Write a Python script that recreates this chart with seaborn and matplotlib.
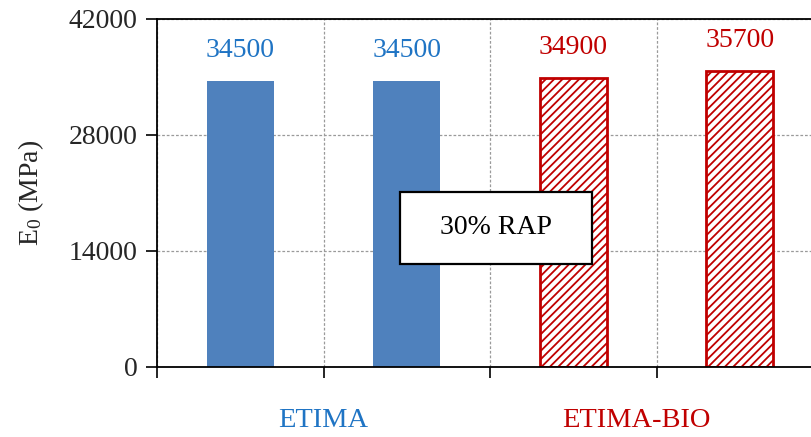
import matplotlib
matplotlib.use("Agg")
import matplotlib.pyplot as plt
import seaborn as sns
import pandas as pd
from matplotlib.patches import Rectangle

# Data
samples = ["ETIMA 1", "ETIMA 2", "ETIMA-BIO 1", "ETIMA-BIO 2"]
values = [34500, 34500, 34900, 35700]
groups = ["ETIMA", "ETIMA-BIO"]
yticks = [0, 14000, 28000, 42000]

blue_fill = "#4F81BD"
blue_text = "#1F74C4"
red = "#C00000"

sns.set_style("white")
plt.rcParams["font.family"] = ["Liberation Serif", "DejaVu Serif"]
plt.rcParams["hatch.linewidth"] = 1.3
plt.rcParams["mathtext.fontset"] = "custom"
plt.rcParams["mathtext.rm"] = "Liberation Serif"
plt.rcParams["mathtext.it"] = "Liberation Serif:italic"

df = pd.DataFrame({"sample": samples, "E0": values})

fig = plt.figure(figsize=(8.11, 4.37), dpi=100)
ax = fig.add_axes([157 / 811, (437 - 367) / 437, 666 / 811, 348 / 437])

sns.barplot(data=df, x="sample", y="E0", hue="sample",
            palette=[blue_fill, blue_fill, "white", "white"],
            width=0.4, legend=False, ax=ax, saturation=1, zorder=2)

for i, p in enumerate(ax.patches):
    if i >= 2:
        p.set_facecolor("white")
        p.set_edgecolor(red)
        p.set_hatch("////")
        p.set_linewidth(2.0)
    else:
        p.set_edgecolor("none")

# value labels
for i, v in enumerate(values):
    c = blue_text if i < 2 else red
    ax.annotate(f"{v}", xy=(i, v), xytext=(0, 13), textcoords="offset points",
                ha="center", va="bottom", fontsize=20, color=c)

ax.set_xlim(-0.5, 3.5)
ax.set_ylim(0, 42000)
ax.set_yticks(yticks)
ax.set_yticklabels([str(t) for t in yticks], fontsize=20)
ax.set_xticks([-0.5, 0.5, 1.5, 2.5])
ax.set_xticklabels([])
ax.tick_params(axis="both", direction="out", length=8, width=1.2, color="black",
               bottom=True, left=True, pad=6)
ax.tick_params(axis="x", length=8, pad=0)

ax.grid(True, axis="both", linestyle=(0, (2.2, 1.5)), color="#9A9A9A", linewidth=0.9, zorder=0)
ax.set_axisbelow(True)

for s in ["left", "bottom", "top"]:
    ax.spines[s].set_color("black")
    ax.spines[s].set_linewidth(1.3)
ax.spines["right"].set_visible(False)

ax.set_xlabel("")
ax.set_ylabel("E$_0$ (MPa)", fontsize=20, labelpad=16)

# group labels
ax.text(0.5, -0.155, groups[0], transform=ax.get_xaxis_transform(),
        ha="center", va="center", fontsize=20.5, color=blue_text)
ax.text(2.38, -0.155, groups[1], transform=ax.get_xaxis_transform(),
        ha="center", va="center", fontsize=20.5, color=red)

# annotation box
ax.add_patch(Rectangle((0.365, 0.296), 0.288, 0.207, transform=ax.transAxes,
                       facecolor="white", edgecolor="black", linewidth=1.6, zorder=5))
ax.text(0.365 + 0.144, 0.296 + 0.1035, "30% RAP", transform=ax.transAxes,
        ha="center", va="center", fontsize=20, color="black", zorder=6)

fig.savefig("out.png", dpi=100)
